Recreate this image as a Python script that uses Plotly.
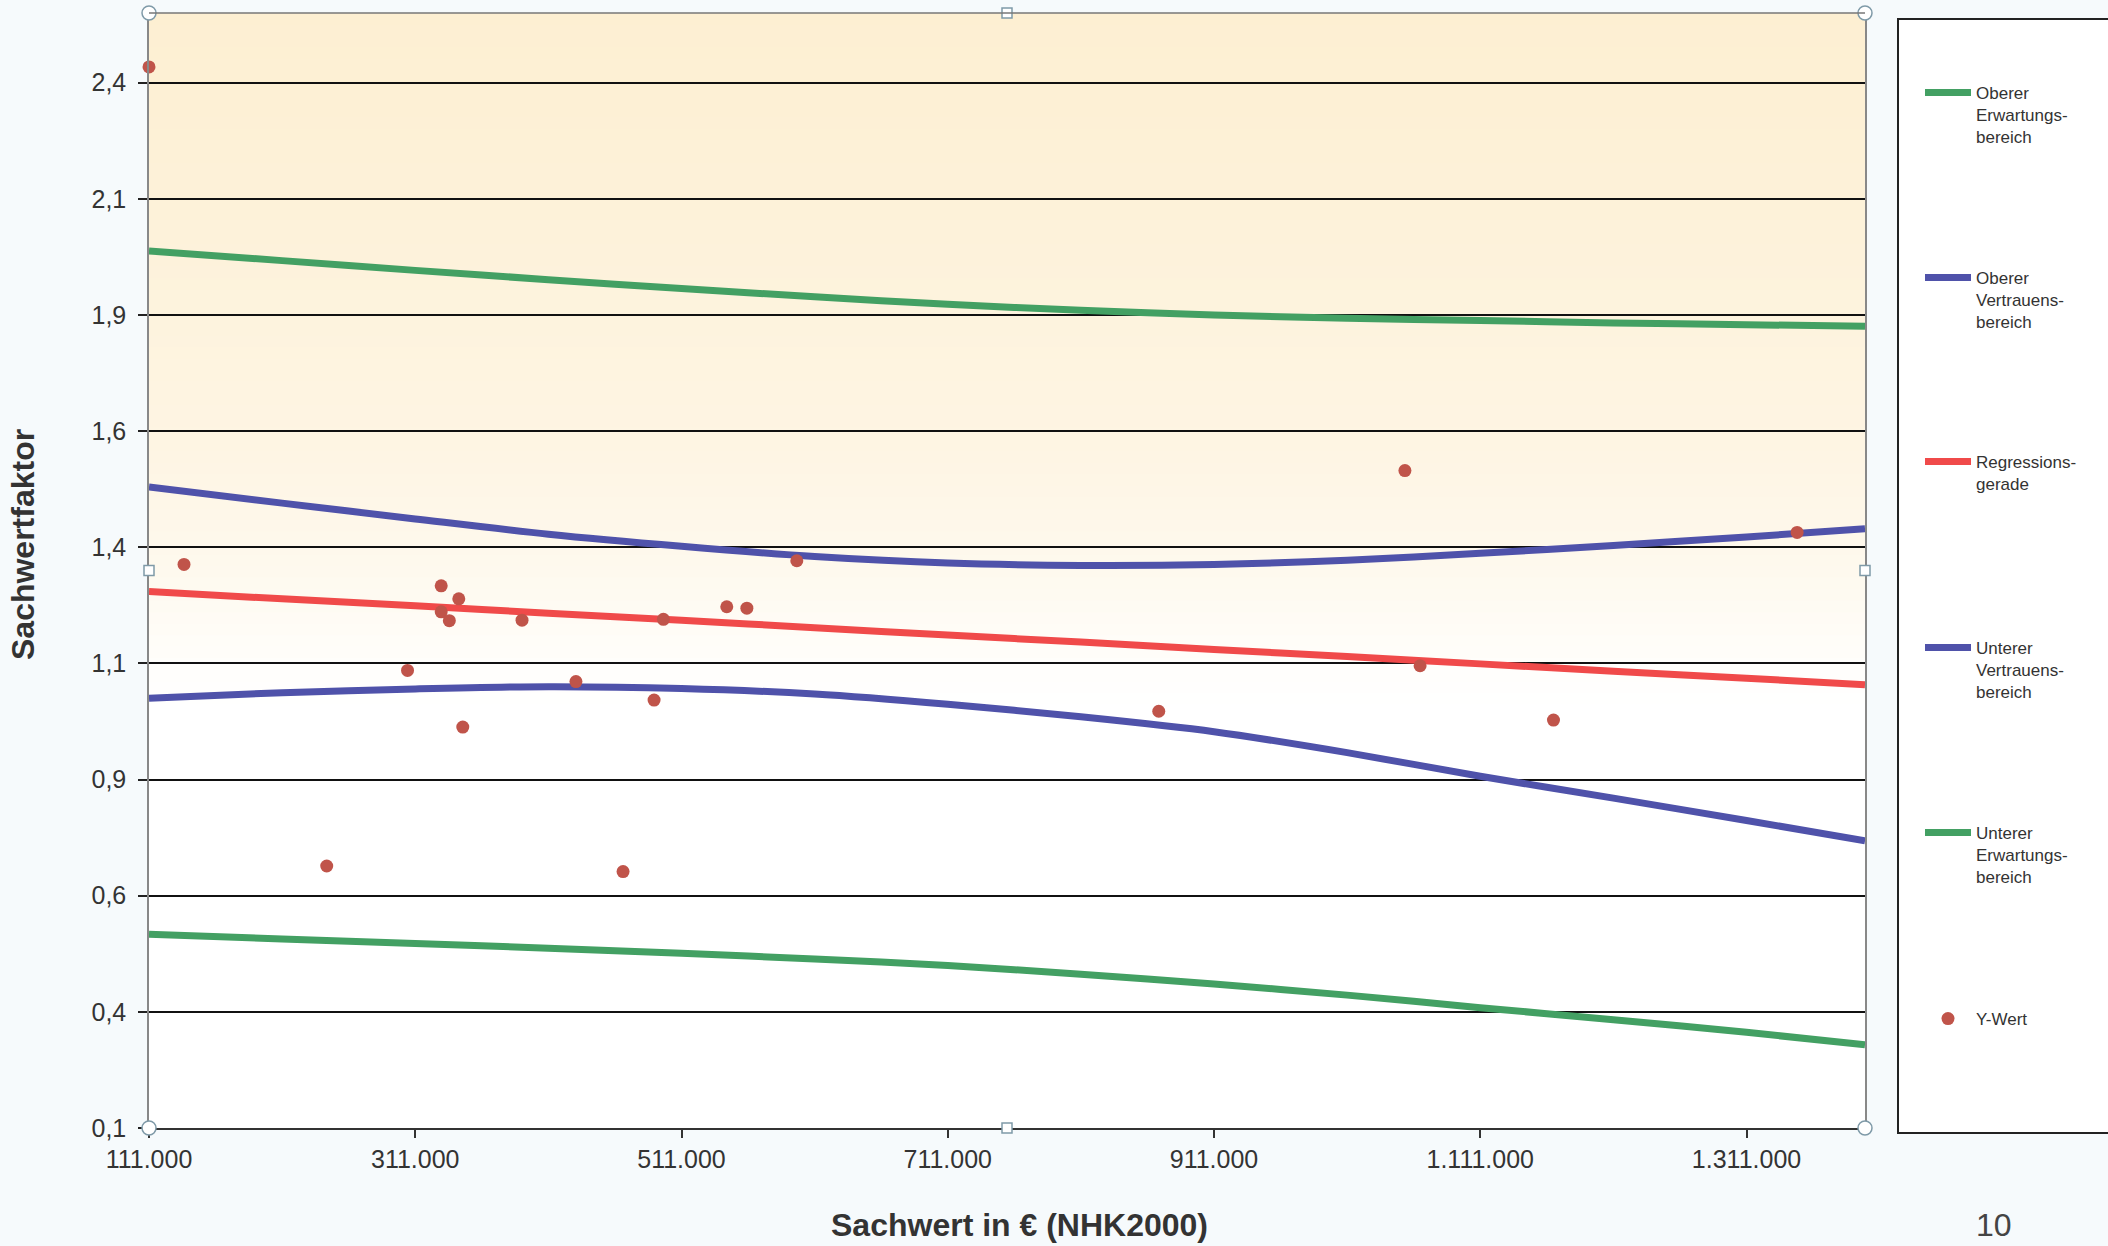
import plotly.graph_objects as go

# ---------------- data ----------------
sachwert_grid = [111000, 211000, 311000, 411000, 511000, 611000, 711000,
                 811000, 911000, 1011000, 1111000, 1211000, 1311000, 1400000]

oberer_erwartung = [1.988, 1.967, 1.946, 1.926, 1.907, 1.889, 1.873,
                    1.860, 1.850, 1.843, 1.838, 1.833, 1.829, 1.826]
oberer_vertrauen = [1.480, 1.445, 1.411, 1.378, 1.352, 1.330, 1.316,
                    1.311, 1.313, 1.322, 1.337, 1.354, 1.372, 1.390]
regressionsgerade = [1.255, 1.239, 1.224, 1.208, 1.193, 1.177, 1.161,
                     1.146, 1.130, 1.115, 1.099, 1.083, 1.068, 1.054]
unterer_vertrauen = [1.025, 1.037, 1.045, 1.050, 1.046, 1.034, 1.012,
                     0.985, 0.953, 0.908, 0.857, 0.810, 0.762, 0.718]
unterer_erwartung = [0.517, 0.507, 0.497, 0.487, 0.476, 0.464, 0.450,
                     0.431, 0.410, 0.386, 0.359, 0.333, 0.306, 0.279]

punkte_x = [111000, 137300, 244500, 305200, 330500, 330500, 336600, 343700,
            346700, 391200, 431700, 467100, 490400, 497400, 545000, 560100,
            597600, 869500, 1054400, 1065800, 1166000, 1349000]
punkte_y = [2.384, 1.313, 0.664, 1.085, 1.267, 1.211, 1.192, 1.239,
            0.963, 1.193, 1.061, 0.652, 1.021, 1.195, 1.222, 1.219,
            1.321, 0.997, 1.515, 1.095, 0.978, 1.382]

x_tickvals = [111000, 311000, 511000, 711000, 911000, 1111000, 1311000]
x_ticktext = ["111.000", "311.000", "511.000", "711.000", "911.000",
              "1.111.000", "1.311.000"]
y_tickvals = [0.1, 0.35, 0.6, 0.85, 1.1, 1.35, 1.6, 1.85, 2.1, 2.35]
y_ticktext = ["0,1", "0,4", "0,6", "0,9", "1,1", "1,4", "1,6", "1,9", "2,1", "2,4"]

x_range = [111000, 1400000]
y_range = [0.1, 2.5]

series = [
    ("Oberer<br>Erwartungs-<br>bereich", oberer_erwartung, "#43a063"),
    ("Oberer<br>Vertrauens-<br>bereich", oberer_vertrauen, "#4f52aa"),
    ("Regressions-<br>gerade", regressionsgerade, "#f04a4a"),
    ("Unterer<br>Vertrauens-<br>bereich", unterer_vertrauen, "#4f52aa"),
    ("Unterer<br>Erwartungs-<br>bereich", unterer_erwartung, "#43a063"),
]

# ---------------- figure ----------------
W, H = 2108, 1246
ML, MR, MT, MB = 149, 243, 13, 118
plot_w = W - ML - MR
plot_h = H - MT - MB

FONT = "Liberation Sans, Arial, sans-serif"

fig = go.Figure()

legend_tops_px = [75, 260, 444, 630, 815, 1001]
legend_left_px = 1920


def px_to_paper_x(px):
    return (px - ML) / plot_w


def px_to_paper_y(py):
    return 1 - (py - MT) / plot_h


for i, (name, vals, col) in enumerate(series):
    lname = "legend" if i == 0 else f"legend{i + 1}"
    fig.add_trace(go.Scatter(
        x=sachwert_grid, y=vals, mode="lines", name=name,
        line=dict(color=col, width=7, shape="spline", smoothing=0.8),
        legend=lname,
    ))

fig.add_trace(go.Scatter(
    x=punkte_x, y=punkte_y, mode="markers", name="Y-Wert",
    marker=dict(color="#c0544a", size=13),
    cliponaxis=False, legend="legend6",
))

legend_common = dict(
    bgcolor="rgba(0,0,0,0)", borderwidth=0, valign="top",
    xanchor="left", yanchor="top", itemwidth=46,
    font=dict(family=FONT, size=17, color="#333333"),
    tracegroupgap=0,
)
for i, top in enumerate(legend_tops_px):
    key = "legend" if i == 0 else f"legend{i + 1}"
    fig.layout[key] = dict(x=px_to_paper_x(legend_left_px), y=px_to_paper_y(top),
                           **legend_common)

# background gradient (peach at top fading to white)
stops = [(0.0, (255, 255, 255)), (0.38, (255, 255, 255)), (0.43, (255, 253, 249)),
         (0.5, (254, 249, 238)), (0.6, (254, 245, 228)), (0.8, (253, 242, 218)),
         (1.0, (253, 239, 210))]


def col_at(t):
    for (t0, c0), (t1, c1) in zip(stops[:-1], stops[1:]):
        if t0 <= t <= t1:
            f = (t - t0) / (t1 - t0) if t1 > t0 else 0
            return "rgb(%d,%d,%d)" % tuple(round(a + (b - a) * f) for a, b in zip(c0, c1))
    return "rgb(255,255,255)"


shapes = []
N = 60
lo = 0.38
for k in range(N):
    y0 = lo + (1 - lo) * k / N
    y1 = lo + (1 - lo) * (k + 1) / N + 0.002
    shapes.append(dict(type="rect", xref="x domain", yref="y domain",
                       x0=0, x1=1, y0=y0, y1=min(y1, 1.0), layer="below",
                       line=dict(width=0), fillcolor=col_at((y0 + y1) / 2)))

# legend frame
shapes.append(dict(type="rect", xref="paper", yref="paper",
                   x0=px_to_paper_x(1898), x1=px_to_paper_x(2125),
                   y0=px_to_paper_y(1133), y1=px_to_paper_y(19),
                   line=dict(color="#222222", width=2), fillcolor="white", layer="below"))

# selection handles of the original chart object
handle_line = dict(color="#7f9aa8", width=1.5)
for hx, hy in [(0, 1), (1, 1), (0, 0), (1, 0)]:
    shapes.append(dict(type="circle", xref="paper", yref="paper",
                       xsizemode="pixel", ysizemode="pixel", xanchor=hx, yanchor=hy,
                       x0=-7, x1=7, y0=-7, y1=7, line=handle_line, fillcolor="white"))
for hx, hy in [(0.5, 1), (0, 0.5), (1, 0.5), (0.5, 0)]:
    shapes.append(dict(type="rect", xref="paper", yref="paper",
                       xsizemode="pixel", ysizemode="pixel", xanchor=hx, yanchor=hy,
                       x0=-5, x1=5, y0=-5, y1=5, line=handle_line, fillcolor="white"))

fig.update_layout(
    width=W, height=H,
    margin=dict(l=ML, r=MR, t=MT, b=MB, autoexpand=False),
    paper_bgcolor="#f6fafc",
    plot_bgcolor="white",
    showlegend=True,
    shapes=shapes,
    font=dict(family=FONT, color="#333333"),
    xaxis=dict(
        range=x_range, tickvals=x_tickvals, ticktext=x_ticktext,
        showgrid=False, zeroline=False,
        showline=True, linecolor="#333333", linewidth=2, mirror=False,
        ticks="outside", ticklen=8, tickcolor="#333333", tickwidth=2,
        tickfont=dict(family=FONT, size=25, color="#333333"),
    ),
    yaxis=dict(
        range=y_range, tickvals=y_tickvals, ticktext=y_ticktext,
        showgrid=True, gridcolor="#111111", gridwidth=2, zeroline=False,
        showline=True, linecolor="#888888", linewidth=1.5, mirror=True,
        ticks="outside", ticklen=9, tickcolor="#222222", tickwidth=2,
        ticklabelstandoff=7,
        tickfont=dict(family=FONT, size=25, color="#333333"),
    ),
    annotations=[
        dict(text="<b>Sachwert in € (NHK2000)</b>", xref="paper", yref="paper",
             x=px_to_paper_x(1019), y=px_to_paper_y(1225),
             xanchor="center", yanchor="middle", showarrow=False,
             font=dict(family=FONT, size=32, color="#333333")),
        dict(text="<b>Sachwertfaktor</b>", xref="paper", yref="paper",
             x=px_to_paper_x(23), y=px_to_paper_y(545), textangle=-90,
             xanchor="center", yanchor="middle", showarrow=False,
             font=dict(family=FONT, size=32, color="#333333")),
        dict(text="10", xref="paper", yref="paper",
             x=px_to_paper_x(1994), y=px_to_paper_y(1225),
             xanchor="center", yanchor="middle", showarrow=False,
             font=dict(family=FONT, size=32, color="#444444")),
    ],
)

fig.add_shape(type="line", xref="paper", yref="paper", x0=0, x1=1, y0=1, y1=1,
              line=dict(color="#777777", width=1.5))

fig.write_html("out.html", config={"displayModeBar": False},
               post_script="document.body.style.margin='0';")
